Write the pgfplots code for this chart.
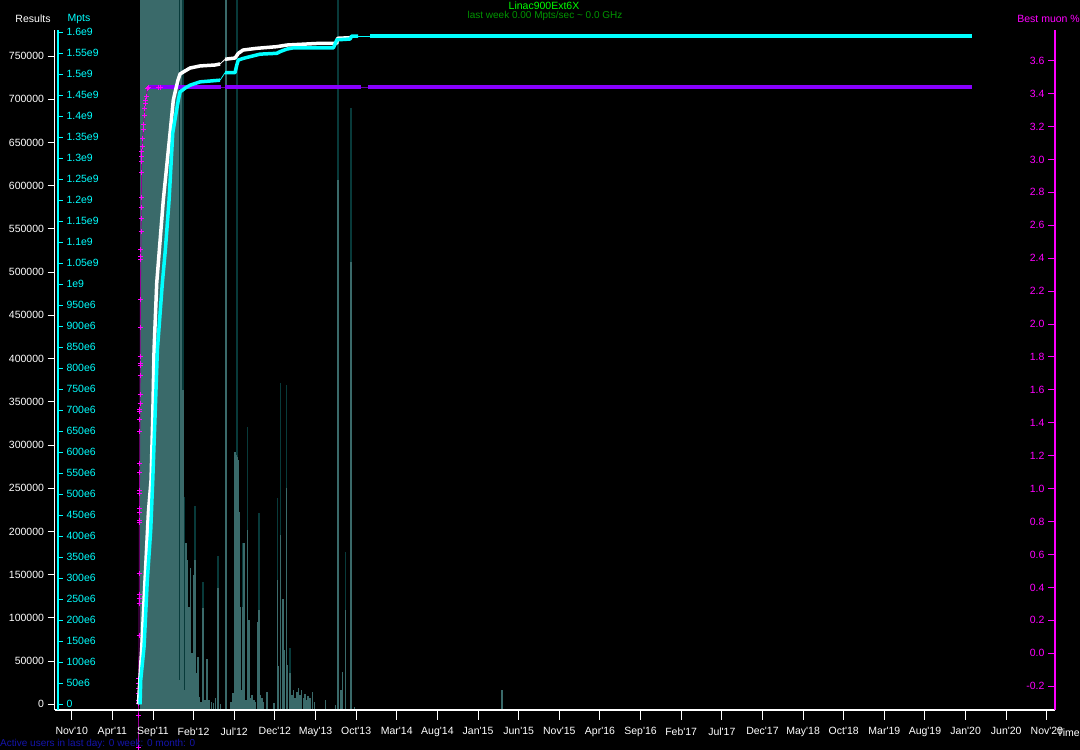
\documentclass[border=0pt]{standalone}
\usepackage{fontspec}
\setmainfont{Liberation Sans}
\usepackage{pgfplots}
\pgfplotsset{compat=1.18}
\usepackage{pgfplotstable}

\definecolor{histteal}{RGB}{58,106,106}
\definecolor{darkteal}{RGB}{8,58,58}
\definecolor{cyn}{RGB}{0,255,255}
\definecolor{purp}{RGB}{136,0,255}
\definecolor{purpthin}{RGB}{100,0,160}
\definecolor{mag}{RGB}{255,0,255}
\definecolor{magline}{RGB}{150,0,150}
\definecolor{titlegreen}{RGB}{0,255,0}
\definecolor{subgreen}{RGB}{0,150,0}
\definecolor{userblue}{RGB}{20,20,170}

\newcommand{\lbl}{\fontsize{10.5}{12}\selectfont}
\newcommand{\q}{\textquotesingle}

% x = months since Nov'10
% histogram heights in pixels above the baseline (no scale in the chart)
\pgfplotstableread{
x y
13.27 710
13.70 710
13.88 213
15.18 204
16.16 128
18.01 154
20.35 710
21.04 167
21.61 283
23.05 197
25.31 212
25.70 327
26.44 325
26.87 62
32.78 710
33.67 158
34.38 602
}\histdark

\pgfplotstableread{
x y
13.27 30
13.45 710
13.70 320
13.88 20
14.07 167
14.25 150
14.44 103
14.62 142
14.81 57
14.99 135
15.18 150
15.36 37
15.54 53
15.67 13
15.90 8
16.16 102
16.40 10
16.65 51
16.90 10
17.20 8
17.45 7
17.70 12
18.01 122
18.30 6
18.99 710
19.60 8
19.85 17
20.10 258
20.22 255
20.35 253
20.47 250
20.59 198
20.72 103
20.85 20
21.04 103
21.20 167
21.45 10
21.61 180
21.82 90
22.00 12
22.20 15
22.40 10
22.60 8
22.93 88
23.05 100
23.20 15
23.40 12
23.60 8
24.05 18
24.90 7
25.31 130
25.46 44
25.70 175
25.99 111
26.12 60
26.44 222
26.56 45
26.87 37
27.10 15
27.30 20
27.50 12
27.70 18
27.90 22
28.10 15
28.30 20
28.50 12
28.70 16
28.90 10
29.10 14
29.30 12
29.60 18
29.90 8
31.20 10
32.43 5
32.78 530
33.15 20
33.30 38
33.67 100
34.38 448
34.80 3
52.97 20
}\histteal

% Results, thousands
\pgfplotstableread{
x y
8.20 0
8.26 8.4
8.62 66.3
9.02 143.8
9.43 221.3
9.76 259.5
9.97 332.4
10.13 410
10.46 487.5
10.78 525.6
11.27 583.5
12.10 661
12.50 699.2
12.84 713.1
13.08 722.3
13.33 729.3
13.94 732.8
14.56 736.2
15.79 738.6
17.64 739.7
18.25 740.9
}\whiteA

\pgfplotstableread{
x y
18.87 746.3
20.10 747.8
20.50 753.2
21.08 757.0
22.77 759.0
25.23 760.9
26.46 762.8
30.56 764.8
32.62 764.8
32.71 770.6
34.25 771.3
}\whiteB

% Mpts, millions
\pgfplotstableread{
x y
8.41 0
8.49 57.9
8.90 137
9.30 296
9.72 415
9.97 534
10.25 685
10.54 844
11.15 1003
11.52 1082
11.98 1201
12.43 1360
12.84 1408
13.12 1439
13.33 1458
13.94 1467
14.56 1474
15.79 1482
17.02 1484
18.25 1486
}\cyanA

\pgfplotstableread{
x y
18.87 1504
20.10 1504
20.31 1522
20.50 1534
21.12 1538
21.94 1542
23.18 1548
25.23 1550
25.64 1554
26.46 1560
27.27 1563
32.20 1563
32.62 1582
34.25 1584
34.46 1591
35.24 1591
}\cyanB

\pgfplotstableread{
x y
36.71 1591
110.80 1591
}\cyanC

% Best muon %
\pgfplotstableread{
x y
8.20 -0.575
8.21 -0.375
8.22 -0.304
8.23 -0.284
8.24 -0.243
8.24 -0.213
8.25 -0.182
8.25 -0.152
8.28 0.111
8.29 0.304
8.29 0.334
8.30 0.36
8.30 0.486
8.32 0.796
8.32 0.806
8.33 0.857
8.33 0.88
8.34 0.97
8.34 0.99
8.36 1.10
8.36 1.15
8.38 1.35
8.39 1.42
8.39 1.47
8.39 1.48
8.40 1.52
8.40 1.57
8.42 1.69
8.42 1.75
8.42 1.76
8.43 1.80
8.44 1.98
8.45 2.15
8.49 2.39
8.50 2.41
8.51 2.45
8.53 2.56
8.54 2.64
8.55 2.71
8.56 2.77
8.59 2.92
8.60 2.99
8.62 3.02
8.63 3.05
8.65 3.08
8.74 3.13
8.81 3.18
8.84 3.21
8.94 3.27
8.99 3.31
9.02 3.34
9.11 3.36
9.18 3.38
9.30 3.43
9.43 3.44
10.63 3.44
10.88 3.44
}\muonramp

\begin{document}
\begin{tikzpicture}
\fill[black] (0,0) rectangle (1080pt,750pt);

\pgfplotsset{
  base/.style={scale only axis, width=1000pt, at={(55pt,40pt)}, anchor=south west,
    xmin=-2.06, xmax=121.0},
  narrow/.style={scale only axis, width=1pt, height=680pt, anchor=south west,
    xmin=0, xmax=1, axis x line=none, xtick=\empty, tick align=outside,
    yticklabel style={font=\lbl}},
}

% daily throughput histogram
\begin{axis}[base, height=710pt, ymin=0, ymax=710, hide axis]
\addplot[fill=histteal, draw=none] coordinates {(8.41,0) (8.41,710) (13.21,710) (13.21,0)} --cycle;
\addplot[ycomb, darkteal, line width=1.3pt] table {\histdark};
\addplot[ycomb, histteal, line width=1.5pt] table {\histteal};
\end{axis}

% best muon %
\begin{axis}[base, height=680pt, ymin=-0.3445, ymax=3.7865, hide axis, clip=false]
\addplot[purpthin, line width=0.8pt] coordinates {(9.43,3.44) (110.8,3.44)};
\addplot[purp, line width=4pt] coordinates {(9.43,3.44) (18.38,3.44)};
\addplot[purp, line width=4pt] coordinates {(18.87,3.44) (35.57,3.44)};
\addplot[purp, line width=4pt] coordinates {(36.50,3.44) (110.8,3.44)};
\addplot[magline, line width=0.8pt, mark=+, mark size=2.5pt,
  mark options={mag, line width=1pt}] table {\muonramp};
\end{axis}

% results + time axis
\begin{axis}[base, height=680pt, ymin=-6.6, ymax=780.2,
  axis x line*=bottom, axis y line=none,
  axis line style={white, line width=1.2pt},
  tick align=outside, major tick length=10pt,
  tick style={white, line width=1pt},
  xtick={0,5,...,120},
  xticklabels={Nov\q{}10,Apr\q{}11,Sep\q{}11,Feb\q{}12,Jul\q{}12,Dec\q{}12,May\q{}13,Oct\q{}13,Mar\q{}14,Aug\q{}14,Jan\q{}15,Jun\q{}15,Nov\q{}15,Apr\q{}16,Sep\q{}16,Feb\q{}17,Jul\q{}17,Dec\q{}17,May\q{}18,Oct\q{}18,Mar\q{}19,Aug\q{}19,Jan\q{}20,Jun\q{}20,Nov\q{}20},
  xticklabel style={text=white, font=\lbl, yshift=-4pt}]
\addplot[white, line width=0.8pt] coordinates {(18.25,740.9) (18.87,746.3)};
\addplot[white, line width=3.5pt, line join=bevel] table {\whiteA};
\addplot[white, line width=3.5pt, line join=bevel] table {\whiteB};
\end{axis}

% Mpts
\begin{axis}[base, height=680pt, ymin=-13.57, ymax=1605.5, hide axis]
\addplot[cyn, line width=0.8pt] coordinates {(18.25,1486) (18.87,1504)};
\addplot[cyn, line width=0.8pt] coordinates {(35.24,1591) (36.71,1591)};
\addplot[cyn, line width=3.5pt, line join=bevel] table {\cyanA};
\addplot[cyn, line width=3.5pt, line join=bevel] table {\cyanB};
\addplot[cyn, line width=3.5pt, line join=bevel] table {\cyanC};
\end{axis}

% left axis: Results
\begin{axis}[narrow, at={(54.5pt,40pt)}, ymin=-6.6, ymax=780.2,
  axis y line*=left, major tick length=7pt,
  axis line style={white, line width=1.2pt}, tick style={white, line width=1pt},
  yticklabel style={text=white},
  ytick={0,50,...,750},
  yticklabels={0,50000,100000,150000,200000,250000,300000,350000,400000,450000,500000,550000,600000,650000,700000,750000}]
\end{axis}

% second axis: Mpts
\begin{axis}[narrow, at={(57pt,40pt)}, ymin=-13.57, ymax=1605.5,
  axis y line*=right, major tick length=5pt,
  axis line style={cyn, line width=1.2pt}, tick style={cyn, line width=1pt},
  yticklabel style={text=cyn},
  ytick={0,50,...,1600},
  yticklabels={0,50e6,100e6,150e6,200e6,250e6,300e6,350e6,400e6,450e6,500e6,550e6,600e6,650e6,700e6,750e6,800e6,850e6,900e6,950e6,1e9,1.05e9,1.1e9,1.15e9,1.2e9,1.25e9,1.3e9,1.35e9,1.4e9,1.45e9,1.5e9,1.55e9,1.6e9}]
\end{axis}

% right axis: Best muon %
\begin{axis}[narrow, at={(1055pt,40pt)}, ymin=-0.3445, ymax=3.7865,
  axis y line*=left, major tick length=7pt,
  axis line style={mag, line width=1.2pt}, tick style={mag, line width=1pt},
  yticklabel style={text=mag},
  ytick={-0.2,0,0.2,0.4,0.6,0.8,1,1.2,1.4,1.6,1.8,2,2.2,2.4,2.6,2.8,3,3.2,3.4,3.6},
  yticklabels={-0.2,0.0,0.2,0.4,0.6,0.8,1.0,1.2,1.4,1.6,1.8,2.0,2.2,2.4,2.6,2.8,3.0,3.2,3.4,3.6}]
\end{axis}

\node[text=titlegreen, font=\lbl] at (544pt,744pt) {Linac900Ext6X};
\node[text=subgreen, font=\fontsize{10}{12}\selectfont] at (545pt,734pt) {last week 0.00 Mpts/sec \textasciitilde{} 0.0 GHz};
\node[text=white, font=\lbl] at (33pt,731pt) {Results};
\node[text=cyn, font=\lbl] at (79pt,731pt) {Mpts};
\node[text=mag, font=\lbl, anchor=east, inner sep=0pt] at (1080pt,731pt) {Best muon \%};
\node[text=white, font=\lbl, anchor=east, inner sep=0pt] at (1080pt,17pt) {Time};
\node[text=userblue, font=\fontsize{10}{12}\selectfont, anchor=west, inner sep=0pt] at (0pt,6pt) {Active users in last day: 0 week: 0 month: 0};

\pgfresetboundingbox
\path[use as bounding box] (0,0) rectangle (1080pt,750pt);
\end{tikzpicture}
\end{document}
